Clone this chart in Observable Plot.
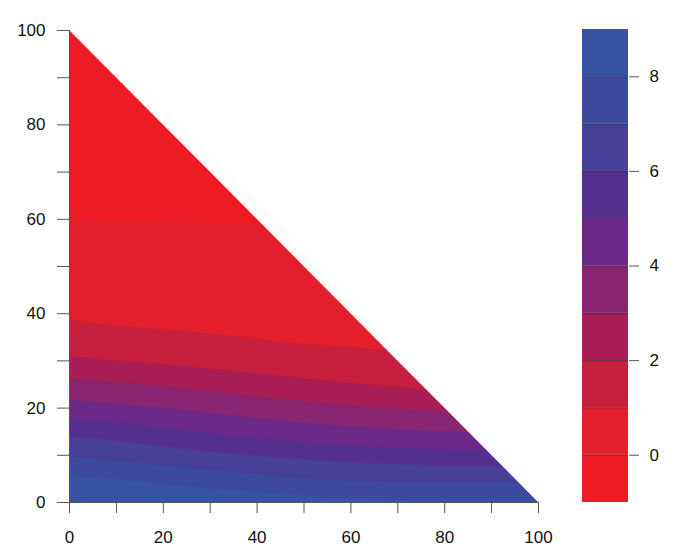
<!DOCTYPE html>
<html><head><meta charset="utf-8">
<script src="https://cdn.jsdelivr.net/npm/d3@7"></script>
<script src="https://cdn.jsdelivr.net/npm/@observablehq/plot@0.6"></script>
<style>
body{margin:0;background:#fff;}
#wrap{position:relative;width:687px;height:558px;font-family:"Liberation Sans",Arial,sans-serif;overflow:hidden;}
#wrap svg{position:absolute;left:0;top:0;}
#title{position:absolute;left:0;width:650px;top:51.5px;text-align:center;font-size:23px;line-height:23px;color:#111;}
</style></head><body><div id="wrap"><div id="title"></div></div>
<script>
// ---- data ----
const titleText = "SAT";
const xGrid = [0,10,20,30,40,50,60,70,80,90,100];
// contour boundaries (y value of each level at xGrid)
const c0 = [60.0,59.8,59.6,59.4,59.2,59.0,58.8,58.6,58.4,58.2,58.0];
const c1 = [38.5,37.4,36.6,35.7,34.6,33.5,32.8,32.1,31.4,30.7,30.0];
const c2 = [31.0,29.9,29.2,28.3,27.3,26.2,25.2,24.4,23.5,22.8,22.0];
const c3 = [26.1,25.4,24.5,23.4,22.4,21.4,20.5,19.8,19.3,18.5,18.0];
const c4 = [21.7,20.8,19.9,18.9,17.8,16.8,16.0,15.4,15.0,14.5,14.0];
const c5 = [17.6,16.9,15.8,14.6,13.6,12.7,12.0,11.5,11.2,11.0,10.8];
const c6 = [13.8,13.0,11.8,10.7,9.8,9.0,8.4,8.0,7.7,7.6,7.5];
const c7 = [9.5,8.8,7.7,6.8,5.9,5.0,4.5,4.2,4.1,4.1,4.0];
const c8 = [5.6,4.8,3.8,2.9,2.1,1.4,0.8,0.3,0.0,0.0,0.0];
const levels = [-1,0,1,2,3,4,5,6,7,8,9];
const bandColors = ["#ed1c24","#e31f2b","#c6203c","#a81e55","#892470","#6b2886","#552f8f","#473f98","#3c4b9f","#3953a4"];
const xTicks = [0,10,20,30,40,50,60,70,80,90,100];
const yTicks = [0,10,20,30,40,50,60,70,80,90,100];
const colorTicks = [0,2,4,6,8];

// ---- build tables: each band painted from its upper boundary down to 0, top band first ----
const boundaries = [c0,c1,c2,c3,c4,c5,c6,c7,c8];
const bandRows = [];
for (let k = 0; k < bandColors.length; k++) {
  xGrid.forEach((x, j) => {
    bandRows.push({band: k, x, top: k === 0 ? 100 : boundaries[k-1][j]});
  });
}
const bars = bandColors.map((c, k) => ({lo: levels[k], hi: levels[k+1], band: k}));

const font = "Liberation Sans, Arial, sans-serif";
const tickColor = "#555";

const main = Plot.plot({
  width: 687, height: 558,
  marginLeft: 69, marginRight: 149, marginTop: 30, marginBottom: 56,
  style: {fontFamily: font, fontSize: "17px", color: "#111", background: "transparent"},
  x: {domain: [0,100]},
  y: {domain: [0,100]},
  color: {type: "ordinal", domain: d3.range(bandColors.length), range: bandColors},
  marks: [
    Plot.areaY(bandRows, {x: "x", y1: 0, y2: "top", z: "band", fill: "band", curve: "monotone-x"}),
    Plot.areaY(xGrid, {x: d => d, y1: d => 100 - d, y2: 100, fill: "white"}),
    Plot.ruleY([0], {stroke: tickColor, strokeWidth: 1}),
    Plot.ruleX([0], {stroke: tickColor, strokeWidth: 1}),
    Plot.axisX(xTicks, {tickSize: 11, tickPadding: 17, stroke: tickColor, fill: "#111", fontSize: 17,
      tickFormat: d => d % 20 === 0 ? String(d) : "", label: null}),
    Plot.axisY(yTicks, {tickSize: 12, tickPadding: 12, stroke: tickColor, fill: "#111", fontSize: 17,
      tickFormat: d => d % 20 === 0 ? String(d) : "", label: null})
  ]
});

const bar = Plot.plot({
  width: 687, height: 558,
  marginLeft: 582, marginRight: 59, marginTop: 29, marginBottom: 56,
  style: {fontFamily: font, fontSize: "17px", color: "#111", background: "transparent"},
  x: {domain: [0,1], axis: null},
  y: {domain: [-1,9]},
  color: {type: "ordinal", domain: d3.range(bandColors.length), range: bandColors},
  marks: [
    Plot.rect(bars, {x1: 0, x2: 1, y1: "lo", y2: "hi", fill: "band"}),
    Plot.ruleY(levels.slice(1, -1), {x1: 0, x2: 1, stroke: "#2a2540", strokeWidth: 0.8, strokeOpacity: 0.7}),
    Plot.axisY(colorTicks, {anchor: "right", tickSize: 10, tickPadding: 11, stroke: tickColor, fill: "#111", fontSize: 17, label: null})
  ]
});

const wrap = document.getElementById("wrap");
wrap.appendChild(main);
wrap.appendChild(bar);
document.getElementById("title").textContent = titleText;
</script>
</body></html>
